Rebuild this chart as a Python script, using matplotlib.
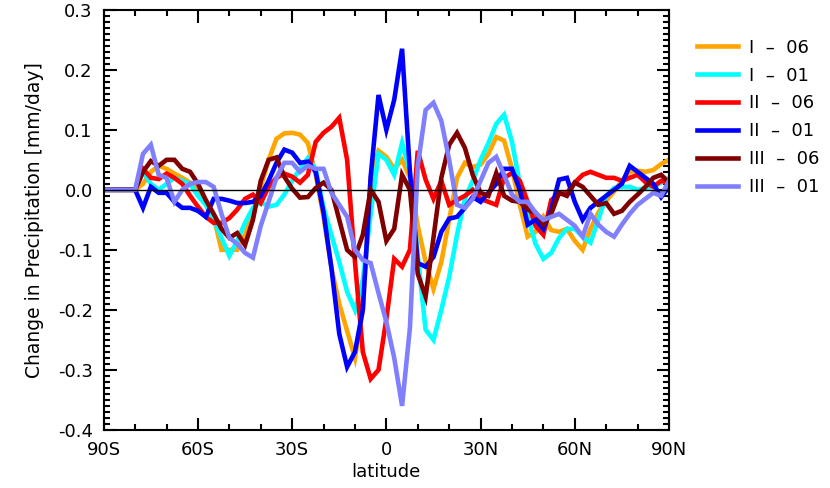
import numpy as np
import matplotlib
matplotlib.use('Agg')
import matplotlib.pyplot as plt
from matplotlib.ticker import MultipleLocator

# latitude grid (2.5 degree steps, 90S -> 90N)
lat = np.arange(-90, 90.1, 2.5)

i_06 = [0, 0, 0, 0, 0, 0.01, 0.03, 0.04, 0.035, 0.027, 0.02, 0.012, 0.0, -0.02, -0.045,
        -0.1, -0.1, -0.1, -0.075, -0.038, 0.005, 0.05, 0.085, 0.094, 0.095, 0.092, 0.078,
        0.025, -0.045, -0.13, -0.19, -0.235, -0.28, -0.2, 0.02, 0.065, 0.055, 0.035, 0.05,
        0.02, -0.06, -0.12, -0.165, -0.12, -0.05, 0.02, 0.045, 0.038, 0.042, 0.06, 0.088,
        0.082, 0.035, -0.025, -0.078, -0.07, -0.045, -0.067, -0.07, -0.065, -0.085, -0.1,
        -0.065, -0.038, -0.018, -0.003, 0.015, 0.03, 0.032, 0.03, 0.033, 0.043, 0.05]
i_01 = [0, 0, 0, 0, 0, 0.03, 0.01, 0.0, 0.01, 0.02, 0.015, 0.01, -0.01, -0.025, -0.05,
        -0.08, -0.11, -0.085, -0.055, -0.03, -0.02, -0.028, -0.025, -0.008, 0.015, 0.035,
        0.053, 0.035, -0.03, -0.075, -0.12, -0.17, -0.2, -0.15, -0.04, 0.06, 0.05, 0.025,
        0.078, 0.03, -0.11, -0.233, -0.25, -0.2, -0.145, -0.075, -0.015, 0.015, 0.05, 0.078,
        0.11, 0.125, 0.08, 0.01, -0.045, -0.09, -0.115, -0.105, -0.08, -0.065, -0.065,
        -0.078, -0.088, -0.05, -0.01, 0.003, 0.005, 0.005, 0.0, 0.003, 0.005, 0.012, 0.02]
ii_06 = [0, 0, 0, 0, 0, 0.035, 0.02, 0.018, 0.027, 0.02, 0.01, -0.01, -0.028, -0.045,
         -0.055, -0.055, -0.047, -0.033, -0.015, -0.008, -0.022, 0.005, 0.02, 0.027, 0.022,
         0.012, 0.025, 0.08, 0.095, 0.105, 0.12, 0.05, -0.12, -0.27, -0.315, -0.3, -0.215,
         -0.115, -0.128, -0.1, 0.065, 0.017, -0.015, 0.015, -0.025, -0.017, -0.01, 0.0,
         -0.015, -0.02, -0.025, 0.02, 0.028, 0.015, -0.02, -0.06, -0.075, -0.017, -0.007,
         -0.005, 0.012, 0.025, 0.03, 0.025, 0.02, 0.02, 0.015, 0.02, 0.025, 0.013, 0.005,
         0.015, 0.012]
ii_01 = [0, 0, 0, 0, 0, -0.03, 0.005, -0.005, -0.005, -0.02, -0.03, -0.03, -0.035, -0.045,
         -0.015, -0.015, -0.018, -0.022, -0.022, -0.02, -0.01, 0.015, 0.045, 0.067, 0.062,
         0.045, 0.047, 0.03, -0.038, -0.13, -0.24, -0.295, -0.27, -0.2, 0.022, 0.158, 0.1,
         0.15, 0.235, 0.03, -0.122, -0.128, -0.112, -0.07, -0.048, -0.045, -0.03, -0.012,
         -0.02, -0.005, 0.01, 0.035, 0.035, 0.0, -0.058, -0.05, -0.065, -0.033, 0.017, 0.02,
         -0.02, -0.05, -0.03, -0.02, -0.01, 0.0, 0.01, 0.04, 0.03, 0.02, 0.01, -0.012, 0.005]
iii_06 = [0, 0, 0, 0, 0, 0.03, 0.048, 0.04, 0.05, 0.05, 0.035, 0.03, 0.01, -0.017, -0.04,
          -0.065, -0.08, -0.072, -0.092, -0.05, 0.015, 0.05, 0.054, 0.022, 0.002, -0.013,
          -0.012, 0.003, 0.012, 0.0, -0.05, -0.1, -0.112, -0.075, 0.0, -0.02, -0.085, -0.065,
          0.025, 0.0, -0.14, -0.178, -0.08, 0.02, 0.075, 0.095, 0.07, 0.025, -0.005, -0.01,
          0.028, -0.01, -0.018, -0.02, -0.033, -0.038, -0.058, -0.04, -0.005, -0.01, 0.012,
          0.005, -0.01, -0.025, -0.022, -0.04, -0.035, -0.02, -0.008, 0.005, 0.02, 0.025, 0.012]
iii_01 = [0, 0, 0, 0, 0, 0.06, 0.075, 0.025, 0.02, -0.02, 0.0, 0.01, 0.013, 0.013, 0.005,
          -0.04, -0.08, -0.09, -0.105, -0.113, -0.06, -0.02, 0.02, 0.045, 0.045, 0.03, 0.04,
          0.035, 0.035, -0.005, -0.025, -0.045, -0.1, -0.117, -0.122, -0.172, -0.22, -0.28,
          -0.36, -0.23, 0.04, 0.133, 0.145, 0.115, 0.05, -0.025, -0.03, -0.015, 0.015, 0.045,
          0.055, 0.025, -0.008, -0.02, -0.02, -0.038, -0.05, -0.045, -0.04, -0.05, -0.06,
          -0.078, -0.04, -0.058, -0.07, -0.078, -0.058, -0.04, -0.025, -0.015, -0.005, -0.01,
          0.015]

series = [i_06, i_01, ii_06, ii_01, iii_06, iii_01]
labels = ['I  \u2013  06', 'I  \u2013  01', 'II  \u2013  06', 'II  \u2013  01',
          'III  \u2013  06', 'III  \u2013  01']
colors = ['#FFA500', '#00FFFF', '#FF0000', '#0000FF', '#800000', '#8080FF']

xticks = [-90, -60, -30, 0, 30, 60, 90]
xticklabels = ['90S', '60S', '30S', '0', '30N', '60N', '90N']

fig = plt.figure(figsize=(8.3, 4.88), dpi=100)
ax = fig.add_axes([0.125, 0.119, 0.681, 0.861])

for vals, lab, col in zip(series, labels, colors):
    ax.plot(lat, vals, color=col, lw=3.3, label=lab, solid_joinstyle='miter')

ax.axhline(0, color='black', lw=1)

ax.set_xlim(-90, 90)
ax.set_ylim(-0.4, 0.3)
ax.set_xticks(xticks)
ax.set_xticklabels(xticklabels)
ax.xaxis.set_minor_locator(MultipleLocator(10))
ax.yaxis.set_major_locator(MultipleLocator(0.1))
ax.yaxis.set_minor_locator(MultipleLocator(0.01))
ax.yaxis.set_major_formatter(matplotlib.ticker.FormatStrFormatter('%.1f'))

ax.tick_params(which='both', direction='in', top=True, right=True, labelsize=13, width=1.5)
ax.tick_params(which='major', length=9, pad=8)
ax.tick_params(which='minor', length=4)
for s in ax.spines.values():
    s.set_linewidth(1.5)

ax.set_xlabel('latitude', fontsize=13, labelpad=3)
ax.set_ylabel('Change in Precipitation [mm/day]', fontsize=13.5, labelpad=10)

ax.legend(loc='upper left', bbox_to_anchor=(1.02, 0.97), frameon=False, fontsize=13,
          handlelength=2.3, handletextpad=0.6, labelspacing=0.55)

fig.savefig('out.png', dpi=100)
